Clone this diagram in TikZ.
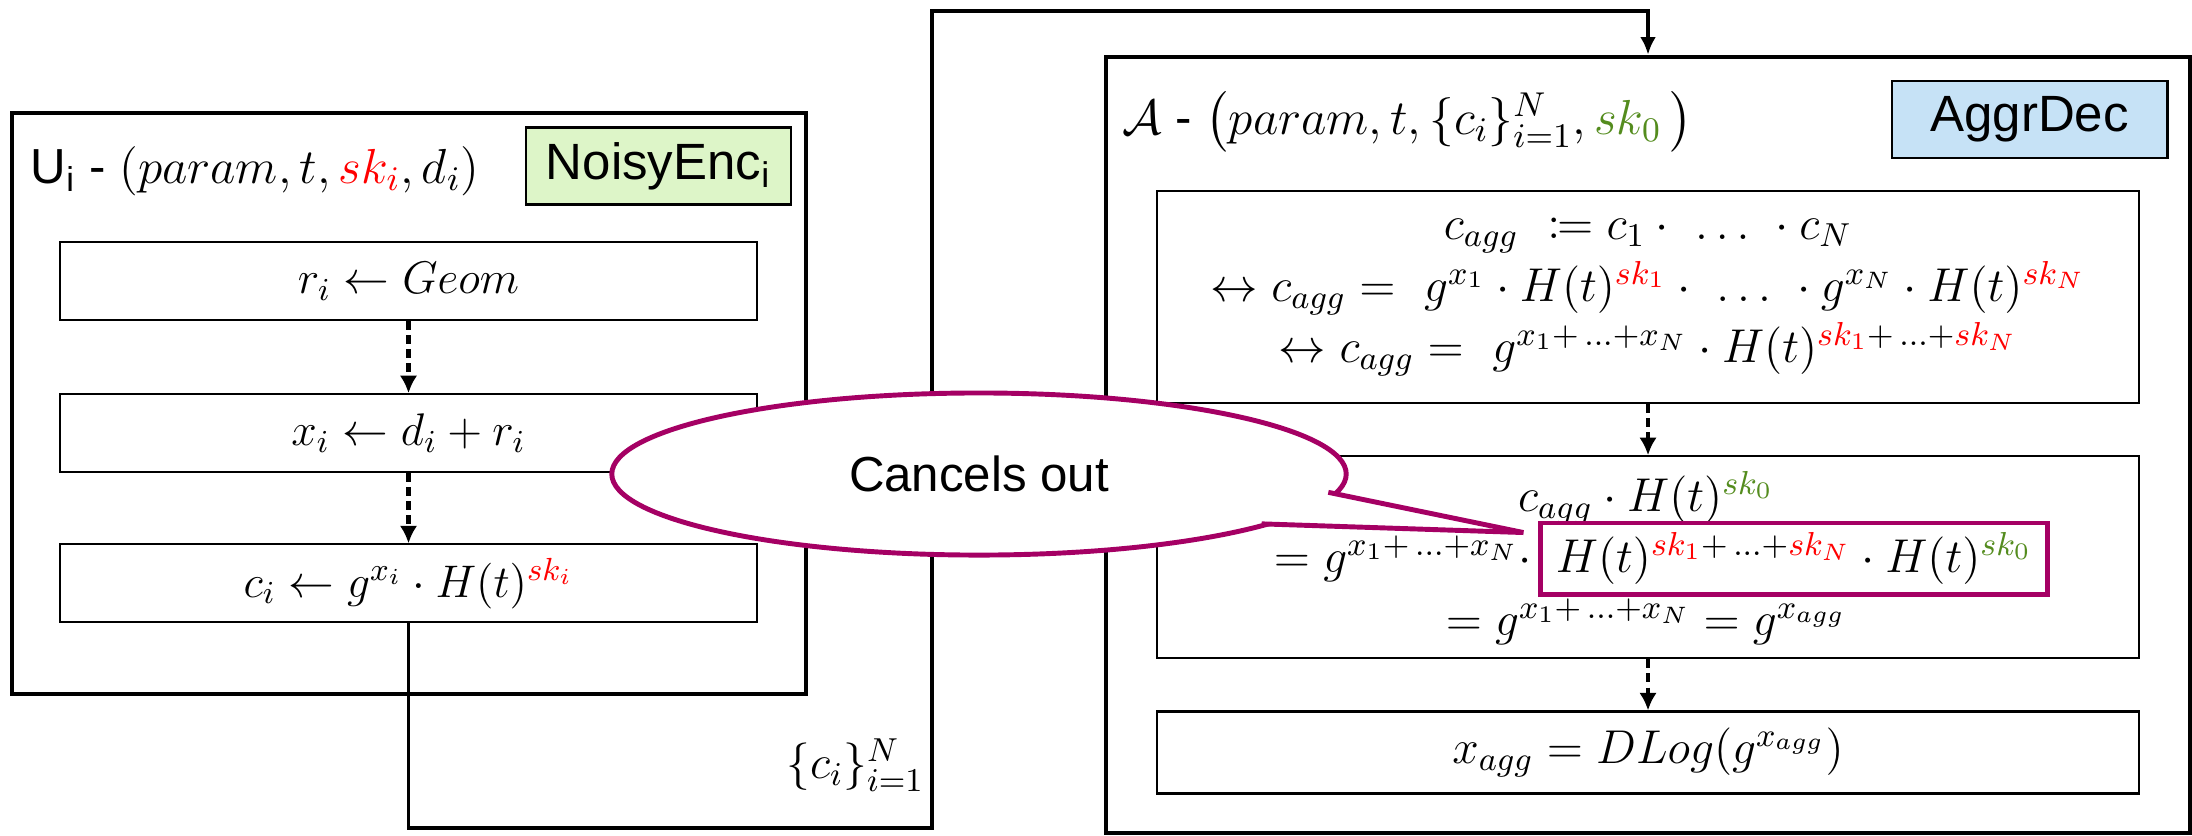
\RequirePackage{fix-cm}
\documentclass[tikz,border=0pt]{standalone}
\usepackage{amsmath}
\usepackage{mathtools}
\usepackage{fontspec}
\setsansfont{Liberation Sans}
\usetikzlibrary{positioning,arrows.meta,shapes.geometric,calc}

\definecolor{skred}{RGB}{255,0,0}
\definecolor{skgreen}{RGB}{84,140,30}
\definecolor{cancelc}{RGB}{165,0,100}
\definecolor{encfill}{RGB}{221,245,200}
\definecolor{decfill}{RGB}{198,226,246}

\newcommand{\skr}[1]{\textcolor{skred}{sk_{#1}}}
\newcommand{\skz}{\textcolor{skgreen}{sk_0}}

\tikzset{
  party/.style={draw, line width=1.2pt, inner sep=0pt},
  tagbox/.style={draw, line width=0.8pt, minimum height=0.77cm, font=\sffamily\fontsize{14.5}{17}\selectfont},
  title/.style={inner sep=0pt, font=\sffamily\fontsize{14}{17}\selectfont},
  stepbox/.style={draw, line width=0.6pt, fill=white, minimum width=6.97cm, minimum height=0.78cm, inner sep=0pt, font=\fontsize{13}{17}\selectfont},
  mathline/.style={inner sep=0pt, font=\fontsize{13.5}{17}\selectfont},
  hlbox/.style={draw=cancelc, line width=1.4pt, minimum width=5.06cm, minimum height=0.71cm, inner sep=1pt, font=\fontsize{13.5}{17}\selectfont},
  flow/.style={line width=1.3pt, dash pattern=on 2.4pt off 1.6pt, -{Latex[length=5pt,width=5pt]}},
  link/.style={line width=1pt, -{Latex[length=5pt,width=4.5pt]}},
  note/.style={ellipse, draw=cancelc, line width=1.4pt, fill=white, minimum width=7.34cm, minimum height=1.62cm, font=\sffamily\fontsize{14}{17}\selectfont},
  pointer/.style={draw=cancelc, fill=white, line width=1.4pt},
}

\begin{document}
\begin{tikzpicture}[x=0.01cm, y=-0.01cm]
\useasboundingbox (0,0) rectangle (2192,835);

% user U_i
\node[party, minimum width=7.94cm, minimum height=5.81cm] (user) at (409,403.5) {};
\node[tagbox, fill=encfill, minimum width=2.65cm] (enc) at (658.5,166) {NoisyEnc\textsubscript{i}};
\node[title, anchor=west] (utitle) at (30,171) {U\textsubscript{i} - $(param, t, \skr{i}, d_i)$};
\node[stepbox] (geom) at (408.5,281) {$r_i \leftarrow Geom$};
\node[stepbox, below=0.72cm of geom] (noise) {$x_i \leftarrow d_i + r_i$};
\node[stepbox, below=0.7cm of noise] (cipher) {$c_i \leftarrow g^{x_i}\cdot H(t)^{\skr{i}}$};
\draw[flow] (geom) -- (noise);
\draw[flow] (noise) -- (cipher);

% aggregator A
\node[party, minimum width=10.84cm, minimum height=7.76cm] (aggr) at (1648,445) {};
\node[tagbox, fill=decfill, minimum width=2.75cm] (dec) at (2029.5,119.5) {AggrDec};
\node[title, anchor=west] (atitle) at (1122,122) {$\mathcal{A}$ - $\left(param, t, \{c_i\}_{i=1}^N, \skz\,\right)$};
\node[stepbox, minimum width=9.82cm, minimum height=2.12cm, align=center, font=\fontsize{13.5}{17.5}\selectfont] (sum) at (1648,297)
  {$c_{agg}\ \coloneqq c_1\cdot\ \ldots\ \cdot c_N$\\
   $\leftrightarrow c_{agg} =\ g^{x_1}\cdot H(t)^{\skr{1}}\cdot\ \ldots\ \cdot g^{x_N}\cdot H(t)^{\skr{N}}$\\
   $\leftrightarrow c_{agg} =\ g^{x_1+\,\ldots+x_N}\cdot H(t)^{\skr{1}+\,\ldots+\skr{N}}$};
\node[stepbox, minimum width=9.82cm, minimum height=2.02cm, below=0.51cm of sum] (cancel) {};
\node[stepbox, minimum width=9.82cm, minimum height=0.82cm, below=0.51cm of cancel, font=\fontsize{13.5}{17}\selectfont] (dlog) {$x_{agg} = DLog(g^{x_{agg}})$};
\draw[flow] (sum) -- (cancel);
\draw[flow] (cancel) -- (dlog);

% lines of the cancel step
\node[mathline] (line1) at (1646,498) {$c_{agg}\cdot H(t)^{\skz}$};
\node[hlbox] (hl) at (1794,558.5) {$H(t)^{\skr{1}+\,\ldots+\skr{N}}\cdot H(t)^{\skz}$};
\node[mathline, anchor=base east] (line2) at ([xshift=-0.06cm]hl.base west) {$= g^{x_1+\,\ldots+x_N}\cdot$};
\node[mathline] (line3) at (1646,622) {$= g^{x_1+\,\ldots+x_N} = g^{x_{agg}}$};

% ciphertexts to A
\coordinate (low) at (932,828);
\coordinate (high) at (932,11);
\draw[link] (cipher.south) |- (low) -- (high) -| (aggr.north);
\node[mathline, above left=0.36cm and 0.07cm of low] (clist) {$\{c_i\}_{i=1}^N$};

% callout
\node[note] (cancels) at (979,474) {Cancels out};
\coordinate (tip) at ([xshift=-0.15cm,yshift=-0.12cm]hl.north west);
\filldraw[pointer] ($(cancels.center)!0.97!(cancels.-3)$) -- (tip) -- ($(cancels.center)!0.97!(cancels.-10)$);
\end{tikzpicture}
\end{document}
